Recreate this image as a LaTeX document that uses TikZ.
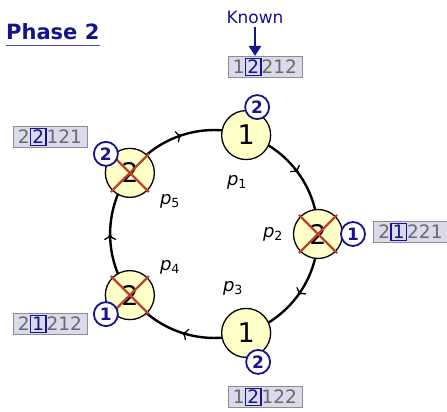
\documentclass[tikz,border=0pt]{standalone}
\usepackage{fontspec}
\setmainfont{DejaVu Sans}
\usetikzlibrary{arrows.meta,decorations.markings,backgrounds}

\definecolor{navy}{RGB}{20,20,140}
\definecolor{ulblue}{RGB}{70,70,190}
\definecolor{procfill}{RGB}{255,255,200}
\definecolor{crossred}{RGB}{190,65,45}
\definecolor{cellfill}{RGB}{218,218,234}
\definecolor{cellline}{RGB}{140,140,150}
\definecolor{digitgray}{RGB}{105,105,105}

% the digit currently looked at, framed inside a state row
\newcommand\curcell[1]{{\setlength\fboxsep{1.2pt}\setlength\fboxrule{1.4pt}\fcolorbox{navy}{cellfill}{\textcolor{navy}{#1}}}}

\tikzset{
  proc/.style={circle, draw=black, line width=1.3pt, fill=procfill,
    minimum size=49pt, inner sep=0pt, font=\fontsize{27}{27}\selectfont},
  badge/.style={circle, draw=navy, line width=1.8pt, fill=white, text=navy,
    minimum size=24pt, inner sep=0pt, font=\fontsize{17}{17}\selectfont\bfseries},
  cell/.style={draw=cellline, line width=1pt, fill=cellfill, text=digitgray,
    minimum width=74pt, minimum height=21pt, inner sep=0pt,
    font=\fontsize{18.5}{18.5}\selectfont},
  plabel/.style={inner sep=0pt, font=\fontsize{18}{18}\selectfont},
  ring/.style={line width=2.4pt, postaction={decorate},
    decoration={markings, mark=at position 0.5 with
      {\arrow{Computer Modern Rightarrow[length=6pt,width=12pt,line width'=1.3pt]}}}},
  crossline/.style={line width=2.4pt, draw=crossred},
}

\begin{document}
\begin{tikzpicture}[x=1pt,y=1pt]
\useasboundingbox (0,0) rectangle (447,412);
\coordinate (c) at (214,178);

% processes on the ring
\node[proc] (p1) at ([shift={(72:104)}]c) {1};
\node[proc] (p2) at ([shift={(0:104)}]c) {2};
\node[proc] (p3) at ([shift={(-72:104)}]c) {1};
\node[proc] (p4) at ([shift={(-144:104)}]c) {2};
\node[proc] (p5) at ([shift={(144:104)}]c) {2};

% ring links, clockwise
\begin{scope}[on background layer]
  \draw[ring] (p5.center) to[bend left=36, looseness=0.94] (p1.center);
  \draw[ring] (p1.center) to[bend left=36, looseness=0.94] (p2.center);
  \draw[ring] (p2.center) to[bend left=36, looseness=0.94] (p3.center);
  \draw[ring] (p3.center) to[bend left=36, looseness=0.94] (p4.center);
  \draw[ring] (p4.center) to[bend left=36, looseness=0.94] (p5.center);
\end{scope}

% crossed-out processes
\foreach \p in {p2,p4,p5}{
  \draw[crossline] ([shift={(135:27)}]\p.center) -- ([shift={(-45:27)}]\p.center);
  \draw[crossline] ([shift={(45:27)}]\p.center) -- ([shift={(-135:27)}]\p.center);
}

% process names
\node[plabel] (l1) at (237,230) {\itshape p\textsubscript{\upshape 1}};
\node[plabel] (l2) at (273,178) {\itshape p\textsubscript{\upshape 2}};
\node[plabel] (l3) at (233,124) {\itshape p\textsubscript{\upshape 3}};
\node[plabel] (l4) at (170,145) {\itshape p\textsubscript{\upshape 4}};
\node[plabel] (l5) at (170,211) {\itshape p\textsubscript{\upshape 5}};

% direction badges
\node[badge] (b1) at ([shift={(11,28)}]p1.center) {2};
\node[badge] (b2) at ([shift={(35,0)}]p2.center) {1};
\node[badge] (b3) at ([shift={(12,-29)}]p3.center) {2};
\node[badge] (b4) at ([shift={(-24,-19)}]p4.center) {1};
\node[badge] (b5) at ([shift={(-24,19)}]p5.center) {2};

% state rows
\node[cell] (s1) at (265,345) {1\curcell{2}212};
\node[cell] (s2) at (410.5,180) {2\curcell{1}221};
\node[cell] (s3) at (265,15) {1\curcell{2}122};
\node[cell] (s4) at (50,88) {2\curcell{1}212};
\node[cell] (s5) at (50,275) {2\curcell{2}121};

% title
\node[anchor=base west, inner sep=0pt, text=navy,
      font=\fontsize{21}{22}\selectfont\bfseries] (title) at (6,372) {Phase 2};
\draw[ulblue, line width=1.4pt] ([yshift=-5.5pt]title.base west) -- ([yshift=-5.5pt]title.base east);

% pointer to the known digit
\node[text=navy, font=\fontsize{17}{17}\selectfont] (known) at (255,395) {Known};
\draw[navy, line width=2.4pt, -{Triangle[length=10pt,width=12pt]}]
  (known.south) -- (known.south |- s1.north);
\end{tikzpicture}
\end{document}
